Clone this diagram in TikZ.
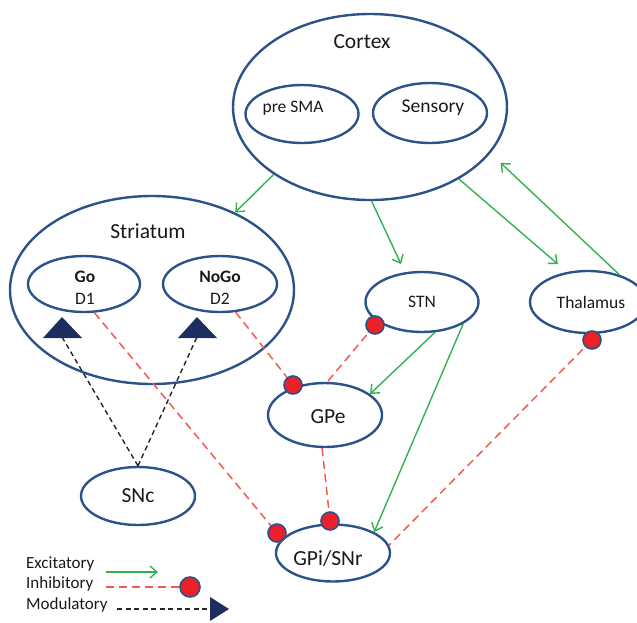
\documentclass[tikz,border=0pt]{standalone}
\usepackage{fontspec}
\setmainfont{Carlito}
\usetikzlibrary{shapes.geometric,arrows.meta}
\definecolor{navy}{RGB}{44,82,138}
\definecolor{trinavy}{RGB}{30,45,95}
\definecolor{exgreen}{RGB}{50,178,80}
\definecolor{inred}{RGB}{242,90,80}
\definecolor{dotred}{RGB}{236,32,40}
\definecolor{txt}{RGB}{25,25,25}
\begin{document}
\begin{tikzpicture}[x=1pt,y=-1pt,
  region/.style={ellipse,draw=navy,line width=2.4pt,inner sep=0pt},
  exc/.style={draw=exgreen,line width=1.4pt,-{Straight Barb[length=7pt,width=12pt,line width=1.4pt]}},
  inh/.style={draw=inred,line width=1.5pt,dash pattern=on 8pt off 5pt},
  mod/.style={draw=black!85,line width=1.4pt,dash pattern=on 5pt off 3.5pt},
  dot/.style={circle,fill=dotred,draw=navy,line width=1.6pt,minimum size=18pt,inner sep=0pt},
  tri/.style={fill=trinavy,draw=none},
  big/.style={font=\fontsize{21.5}{25}\selectfont,text=txt,inner sep=0pt},
  mid/.style={font=\fontsize{17.5}{21}\selectfont,text=txt,inner sep=0pt},
  leg/.style={font=\fontsize{17}{20}\selectfont,text=txt,inner sep=0pt,anchor=west}]
\useasboundingbox (0,0) rectangle (637,622);

% regions
\node[region,minimum width=274pt,minimum height=186pt] (cortex) at (370,107) {};
\node[region,minimum width=113pt,minimum height=58pt] (presma) at (302,114) {};
\node[region,minimum width=114pt,minimum height=60pt] (sensory) at (430,113) {};
\node[region,minimum width=284pt,minimum height=188pt] (striatum) at (152,290) {};
\node[region,minimum width=112pt,minimum height=56pt] (go) at (84,284) {};
\node[region,minimum width=114pt,minimum height=56pt] (nogo) at (220,284) {};
\node[region,minimum width=113pt,minimum height=60pt] (stn) at (422,302) {};
\node[region,minimum width=116pt,minimum height=62pt] (thal) at (588,302) {};
\node[region,minimum width=114pt,minimum height=64pt] (gpe) at (325,415) {};
\node[region,minimum width=114pt,minimum height=57pt] (gpi) at (333,553) {};
\node[region,minimum width=114pt,minimum height=58pt] (snc) at (138,496) {};

% labels
\node[big] (lcortex) at (362,42) {Cortex};
\node[mid] (lpresma) at (293,108) {pre SMA};
\node[font=\fontsize{19.5}{23}\selectfont,text=txt,inner sep=0pt] (lsensory) at (433,108) {Sensory};
\node[big] (lstriatum) at (148,231) {Striatum};
\node[mid] (lgo) at (85,277) {\bfseries Go};
\node[mid] (ld1) at (85,299) {D1};
\node[mid] (lnogo) at (220,277) {\bfseries NoGo};
\node[mid] (ld2) at (220,299) {D2};
\node[mid] (lstn) at (422,302) {STN};
\node[mid] (lthal) at (591,302) {Thalamus};
\node[big] (lgpe) at (328,417) {GPe};
\node[big] (lgpi) at (328,558) {GPi/SNr};
\node[big] (lsnc) at (138,496) {SNc};

% dot positions
\coordinate (dstn) at (375,325);
\coordinate (dgpe) at (293,385);
\coordinate (dgpi1) at (277,533);
\coordinate (dgpi2) at (330,521);
\coordinate (dthal) at (592,340);
\coordinate (tgo) at (62,337);
\coordinate (tnogo) at (197,337);

% excitatory
\draw[exc] (cortex.215) -- (striatum.43);
\draw[exc,shorten >=9pt] (cortex.-89) -- (stn.120);
\draw[exc,shorten >=12pt] (cortex.-39) -- (thal.125);
\draw[exc,shorten >=14pt] (thal.41) -- (cortex.-21);
\draw[exc] (stn.-67) -- (gpe.25);
\draw[exc] (stn.-28) -- (gpi.27);

% inhibitory
\draw[inh] (nogo.-61) -- (dgpe);
\draw[inh] (dstn) -- (gpe.86);
\draw[inh] (go.-70) -- (dgpi1);
\draw[inh] (gpe.-95) -- (dgpi2);
\draw[inh] (dthal) -- (gpi.8);

% modulatory
\draw[mod] (snc.north) -- (tgo);
\draw[mod] (snc.north) -- (tnogo);
\fill[tri] (43,338) -- (62,317) -- (82,338) -- cycle;
\fill[tri] (178,338) -- (197,317) -- (217,338) -- cycle;

% dots
\node[dot] (ndstn) at (dstn) {};
\node[dot] (ndgpe) at (dgpe) {};
\node[dot] (ndgpi1) at (dgpi1) {};
\node[dot] (ndgpi2) at (dgpi2) {};
\node[dot] (ndthal) at (dthal) {};

% legend
\node[leg] (lexc) at (26,564) {Excitatory};
\node[leg] (linh) at (26,584) {Inhibitory};
\node[leg] (lmod) at (26,605) {Modulatory};
\coordinate (e1) at (106,572);
\coordinate (e2) at (158,572);
\coordinate (i1) at (106,587);
\coordinate (i2) at (190,587);
\coordinate (m1) at (117,609);
\coordinate (m2) at (211,609);
\draw[exc] (e1) -- (e2);
\draw[inh] (i1) -- (i2);
\node[dot,minimum size=20pt] (legdot) at (i2) {};
\draw[mod] (m1) -- (m2);
\fill[tri] (210,597) -- (229,609) -- (210,621) -- cycle;
\end{tikzpicture}
\end{document}
